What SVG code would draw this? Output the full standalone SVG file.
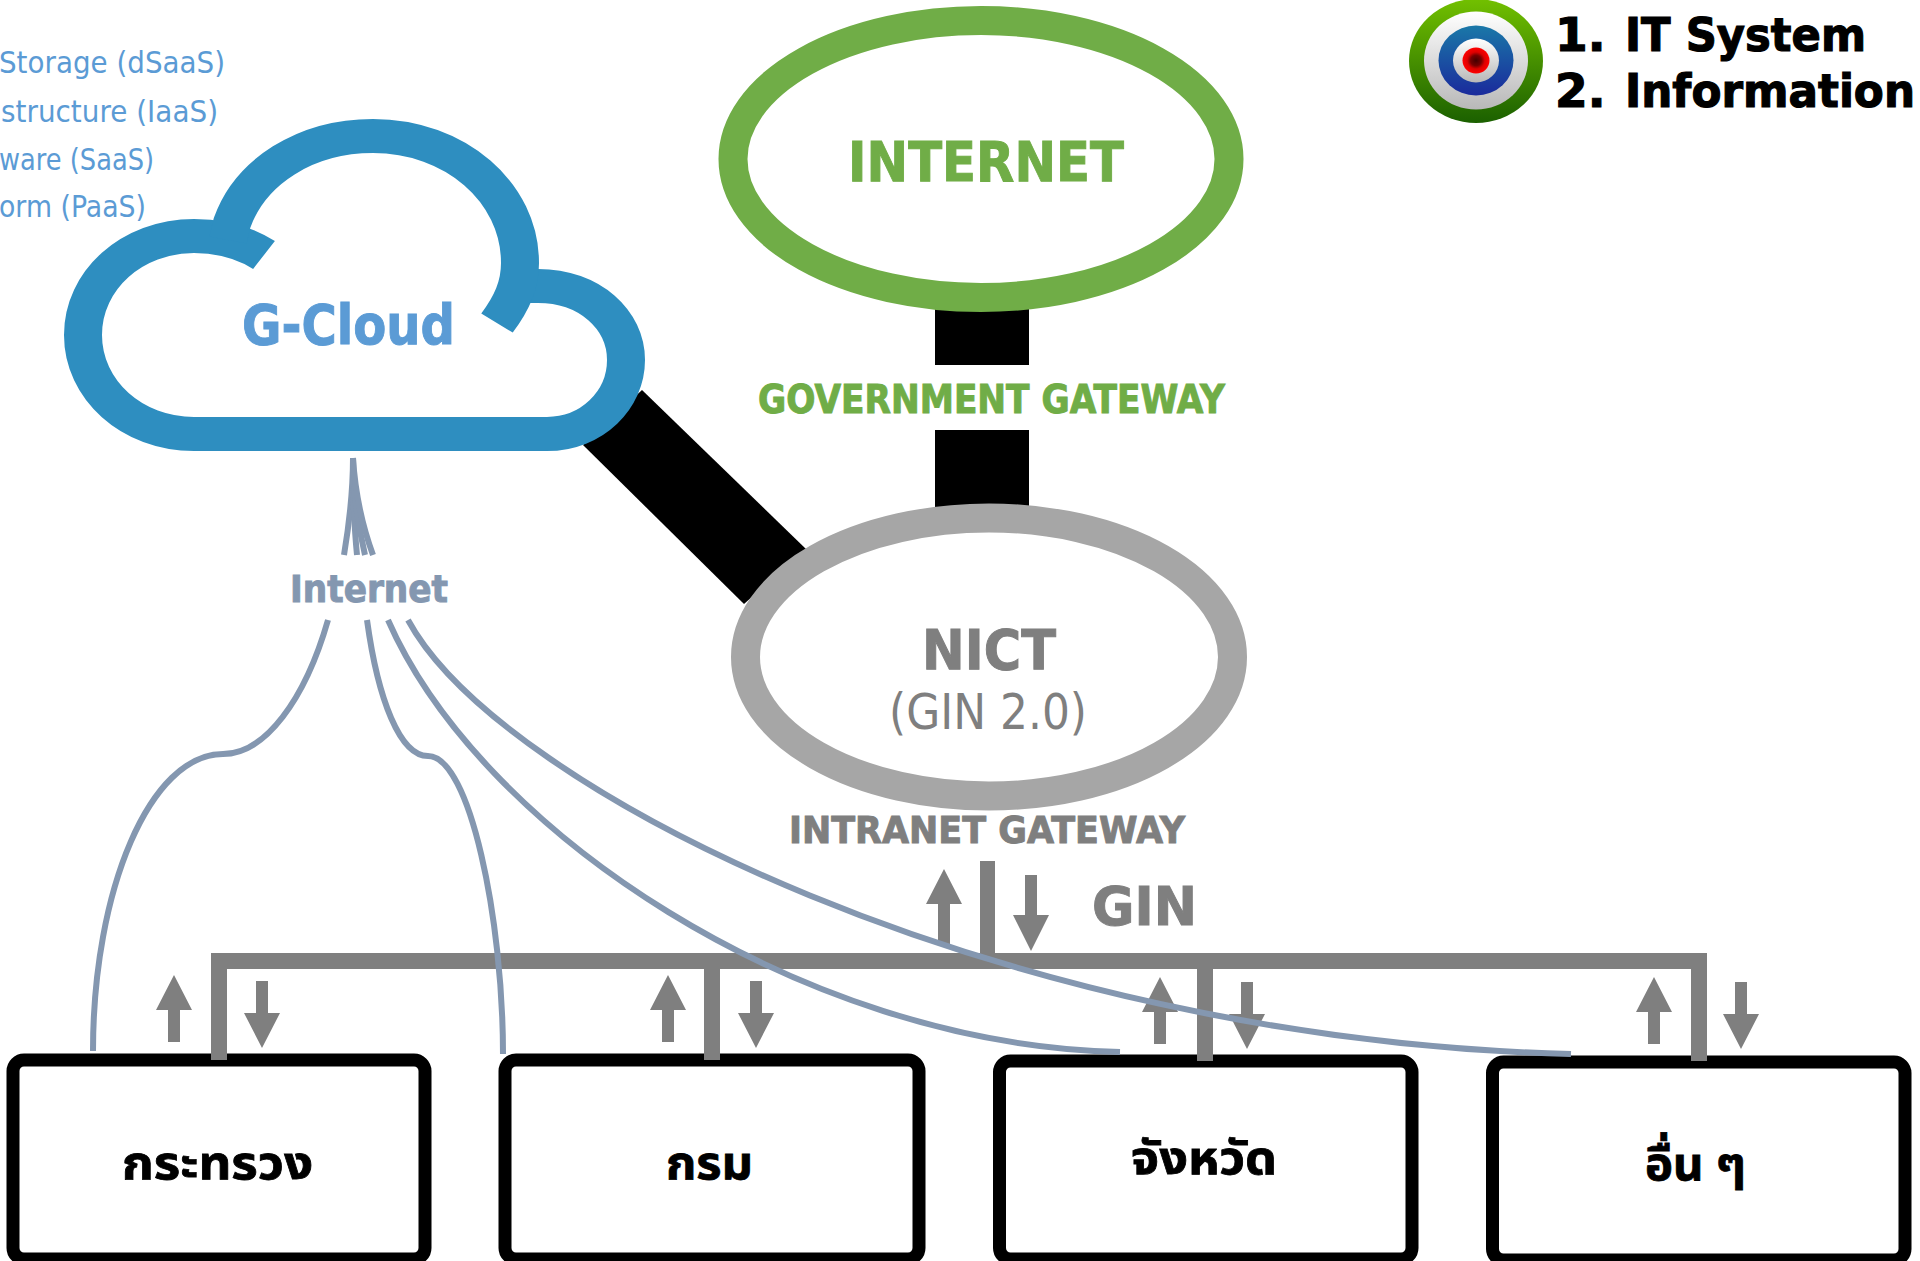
<svg xmlns="http://www.w3.org/2000/svg" width="1920" height="1261" viewBox="0 0 1920 1261">
<style>
text{font-family:"DejaVu Sans","Noto Sans",Tahoma,sans-serif}
.b{font-weight:bold;stroke-width:1}
.blue{fill:#5b9bd5}
.b.blue{stroke:#5b9bd5}
.grey{fill:#7f7f7f}
.b.grey{stroke:#7f7f7f}
.green{fill:#70ad47}
.b.green{stroke:#70ad47}
.net{fill:none;stroke:#8497b0;stroke-width:6}
.cl{fill:none;stroke:#2e8ec0;stroke-width:38}
.box{fill:#fff;stroke:#000;stroke-width:13}
.bar{fill:#7f7f7f}
.thai{font-weight:bold;font-size:46px;fill:#000;stroke:#000;stroke-width:.8;font-family:"Noto Sans Thai","Noto Sans","DejaVu Sans",Tahoma,sans-serif}
.tgt{font-weight:bold;font-size:47px;fill:#000;stroke:#000;stroke-width:1.200}
</style>
<defs>
<path id="up" class="bar" d="M0,0L18,35H6V67H-6V35H-18Z"/>
<path id="down" class="bar" d="M0,0L18,-35H6V-67H-6V-35H-18Z"/>
<linearGradient id="g1" x1="0" y1="0" x2="0" y2="1"><stop offset="0" stop-color="#72c000"/><stop offset="1" stop-color="#1b6000"/></linearGradient>
<linearGradient id="g2" x1="0" y1="0" x2="0" y2="1"><stop offset="0" stop-color="#fff"/><stop offset="1" stop-color="#b8b8b8"/></linearGradient>
<linearGradient id="g3" x1="0" y1="0" x2="0" y2="1"><stop offset="0" stop-color="#1a78a8"/><stop offset="1" stop-color="#1a2a9c"/></linearGradient>
<radialGradient id="g4"><stop offset="0" stop-color="#400"/><stop offset=".4" stop-color="#700"/><stop offset=".65" stop-color="#d00"/><stop offset="1" stop-color="#f00"/></radialGradient>
</defs>

<g id="links">
<polygon points="642,390 583,445 744,604 806,549" fill="#000"/>
<rect x="935" y="300" width="94" height="65" fill="#000"/>
<rect x="935" y="430" width="94" height="90" fill="#000"/>
</g>

<g id="node-cloud">
<g transform="scale(1,.9)">
<path class="cl" d="M264,283.300C245,270 220,262.200 194,262.200C132,262.200 83,311.100 83,372.200C83,433.300 132,482.200 194,482.200L547,482.200C592,482.200 626,444.400 626,400C626,355.600 590,317.800 538,317.800L525,317.800"/>
<path class="cl" d="M497,358.900C512,336.700 520,316.700 520,292.200C520,213.300 455,151.100 373,151.100C305,151.100 250,191.100 232,247.800L228,266.700"/>
</g>
<text class="b blue" x="242" y="344" font-size="55" textLength="213" lengthAdjust="spacingAndGlyphs">G-Cloud</text>
</g>

<g id="services">
<text class="blue" x="-1" y="73" font-size="31" textLength="226" lengthAdjust="spacingAndGlyphs">Storage (dSaaS)</text>
<text class="blue" x="1" y="122" font-size="31" textLength="217" lengthAdjust="spacingAndGlyphs">structure (IaaS)</text>
<text class="blue" x="-1" y="170" font-size="31" textLength="155" lengthAdjust="spacingAndGlyphs">ware (SaaS)</text>
<text class="blue" x="-1" y="217" font-size="31" textLength="147" lengthAdjust="spacingAndGlyphs">orm (PaaS)</text>
</g>

<g id="node-internet">
<ellipse cx="981" cy="159" rx="248" ry="138.500" fill="#fff" stroke="#70ad47" stroke-width="29"/>
<text class="b green" x="848" y="181" font-size="55" textLength="276" lengthAdjust="spacingAndGlyphs">INTERNET</text>
</g>

<g id="node-nict">
<ellipse cx="989" cy="657" rx="243.500" ry="139" fill="#fff" stroke="#a6a6a6" stroke-width="29"/>
<text class="b grey" x="922" y="669" font-size="55" textLength="134" lengthAdjust="spacingAndGlyphs">NICT</text>
<text class="grey" x="889" y="729" font-size="50" textLength="198" lengthAdjust="spacingAndGlyphs">(GIN 2.0)</text>
</g>

<text class="b green" x="758" y="413" font-size="39" textLength="467" lengthAdjust="spacingAndGlyphs">GOVERNMENT GATEWAY</text>
<text class="b grey" x="789" y="843" font-size="37" textLength="396" lengthAdjust="spacingAndGlyphs">INTRANET GATEWAY</text>
<text class="b grey" x="1092" y="925" font-size="53" textLength="105" lengthAdjust="spacingAndGlyphs">GIN</text>

<g id="node-target">
<ellipse cx="1476" cy="61" rx="67" ry="62" fill="url(#g1)"/>
<ellipse cx="1476" cy="60.500" rx="52" ry="49" fill="url(#g2)"/>
<ellipse cx="1476" cy="60.500" rx="37.500" ry="35" fill="url(#g3)"/>
<ellipse cx="1476" cy="60.500" rx="23" ry="22" fill="url(#g2)"/>
<ellipse cx="1476" cy="60.500" rx="13.500" ry="13" fill="url(#g4)"/>
</g>
<g id="goals">
<text class="tgt" y="51"><tspan x="1555">1.</tspan> <tspan x="1625" textLength="241" lengthAdjust="spacingAndGlyphs">IT System</tspan></text>
<text class="tgt" y="107"><tspan x="1555">2.</tspan> <tspan x="1625" textLength="290" lengthAdjust="spacingAndGlyphs">Information</tspan></text>
</g>

<g id="node-ministry">
<rect class="box" x="13" y="1060" width="412" height="199" rx="11"/>
<text class="thai" x="122" y="1179" textLength="191" lengthAdjust="spacingAndGlyphs">กระทรวง</text>
</g>
<g id="node-department">
<rect class="box" x="505" y="1060" width="414" height="199" rx="11"/>
<text class="thai" x="666" y="1179" textLength="87" lengthAdjust="spacingAndGlyphs">กรม</text>
</g>
<g id="node-province">
<rect class="box" x="999.500" y="1061" width="412.500" height="198" rx="11"/>
<text class="thai" x="1131" y="1174" textLength="146" lengthAdjust="spacingAndGlyphs">จังหวัด</text>
</g>
<g id="node-other">
<rect class="box" x="1492.500" y="1062" width="412.500" height="198" rx="11"/>
<text class="thai" x="1645" y="1180" textLength="101" lengthAdjust="spacingAndGlyphs">อื่น ๆ</text>
</g>

<g id="connectors">
<rect class="bar" x="211" y="953" width="1496" height="16"/>
<rect class="bar" x="211" y="953" width="16" height="107"/>
<rect class="bar" x="704" y="953" width="16" height="107"/>
<rect class="bar" x="1197" y="953" width="16" height="108"/>
<rect class="bar" x="1691" y="953" width="16" height="108"/>
<rect class="bar" x="980" y="861" width="15" height="95"/>
<use href="#up" x="174" y="975"/>
<use href="#down" x="262" y="1048"/>
<use href="#up" x="668" y="975"/>
<use href="#down" x="756" y="1048"/>
<use href="#up" x="1160" y="977"/>
<use href="#down" x="1247" y="1049"/>
<use href="#up" x="1654" y="977"/>
<use href="#down" x="1741" y="1049"/>
<path class="bar" d="M944,869L962,904H950V945H938V904H926Z"/>
<path class="bar" d="M1031,951L1049,915H1037V875H1025V915H1013Z"/>
<path class="net" d="M353,458C353,490 349,525 344,555"/>
<path class="net" d="M353,458C353,490 354,525 357,555"/>
<path class="net" d="M353,458C353,490 358,525 365,555"/>
<path class="net" d="M353,458C355,490 362,525 373,555"/>
<text class="b" x="290" y="602" font-size="37" fill="#8497b0" stroke="#8497b0" textLength="158" lengthAdjust="spacingAndGlyphs">Internet</text>
<path class="net" d="M328,620C305,700 265,754 223,754C150,754 93,890 93,1051"/>
<path class="net" d="M367,620C378,700 400,756 428,756C470,756 503,920 503,1054"/>
<path class="net" d="M388,620C480,830 800,1045 1120,1052"/>
<path class="net" d="M408,620C500,790 1000,1040 1571,1054"/>
</g>
</svg>
